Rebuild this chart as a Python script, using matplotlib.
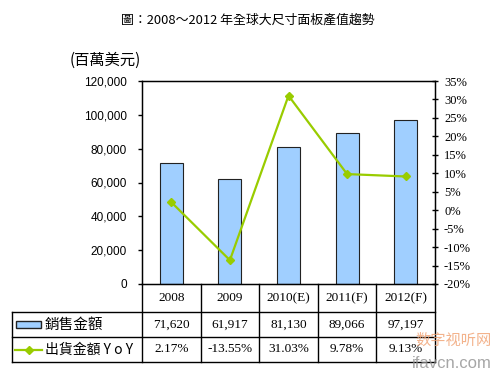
import matplotlib.pyplot as plt
from matplotlib.lines import Line2D
from matplotlib.patches import Rectangle

years = ["2008", "2009", "2010(E)", "2011(F)", "2012(F)"]
sales = [71620, 61917, 81130, 89066, 97197]
yoy = [2.17, -13.55, 31.03, 9.78, 9.13]
sales_labels = ["71,620", "61,917", "81,130", "89,066", "97,197"]
yoy_labels = ["2.17%", "-13.55%", "31.03%", "9.78%", "9.13%"]

CJK = ["Noto Sans CJK TC", "DejaVu Sans"]
SERIF_CJK = ["Liberation Serif", "Noto Sans CJK TC"]
BAR_COLOR = "#a0cfff"
LINE_COLOR = "#99cc00"

W, H = 500, 375
fig = plt.figure(figsize=(5, 3.75), dpi=100)
fig.patch.set_facecolor("white")

x0, x1 = 142, 435
y_top, y_bot = 81, 284
ax = fig.add_axes([x0 / W, 1 - y_bot / H, (x1 - x0) / W, (y_bot - y_top) / H])
xs = list(range(len(years)))
ax.bar(xs, sales, width=0.39, color=BAR_COLOR, edgecolor="#222222", linewidth=0.8)
ax.set_xlim(-0.5, len(years) - 0.5)
ax.set_ylim(0, 120000)
ax.set_yticks(range(0, 120001, 20000))
ax.set_yticklabels([f"{v:,}" for v in range(0, 120001, 20000)],
                   fontfamily="Liberation Sans", fontsize=8.5)
ax.set_xticks([])
ax.tick_params(axis="y", direction="out", length=3, width=1, pad=8)
for s in ax.spines.values():
    s.set_linewidth(1)

ax2 = ax.twinx()
ax2.plot(xs, yoy, color=LINE_COLOR, linewidth=1.6, marker="D", markersize=4)
ax2.set_ylim(-20, 35)
ax2.set_yticks(range(-20, 36, 5))
ax2.set_yticklabels([f"{v}%" for v in range(-20, 36, 5)],
                    fontfamily="Liberation Serif", fontsize=9)
ax2.tick_params(axis="y", direction="inout", length=5, width=1, pad=4)
ax2.set_xlim(-0.5, len(years) - 0.5)

fig.text(248 / W, 1 - 20 / H, "圖：2008～2012 年全球大尺寸面板產值趨勢",
         ha="center", va="center", fontsize=9.3, fontfamily=CJK)
fig.text(70 / W, 1 - 60 / H, "(百萬美元)", ha="left", va="center",
         fontsize=11, fontfamily=CJK)

# table under the chart
cols = [142, 200.6, 259.2, 317.8, 376.4, 435]
rows = [284, 312, 337, 362]
lx = 12


def fx(px):
    return px / W


def fy(py):
    return 1 - py / H


def hline(y, xa, xb):
    fig.add_artist(Line2D([fx(xa), fx(xb)], [fy(y), fy(y)], color="black", lw=1))


def vline(x, ya, yb):
    fig.add_artist(Line2D([fx(x), fx(x)], [fy(ya), fy(yb)], color="black", lw=1))


hline(rows[1], lx, cols[-1])
hline(rows[2], lx, cols[-1])
hline(rows[3], lx, cols[-1])
vline(lx, rows[1], rows[3])
for c in cols:
    vline(c, rows[0], rows[3])

for i in range(len(years)):
    cx = (cols[i] + cols[i + 1]) / 2
    fig.text(fx(cx), fy((rows[0] + rows[1]) / 2), years[i], ha="center", va="center",
             fontsize=9.5, fontfamily=SERIF_CJK)
    fig.text(fx(cx), fy((rows[1] + rows[2]) / 2), sales_labels[i], ha="center", va="center",
             fontsize=9.5, fontfamily=SERIF_CJK)
    fig.text(fx(cx), fy((rows[2] + rows[3]) / 2), yoy_labels[i], ha="center", va="center",
             fontsize=9.5, fontfamily=SERIF_CJK)

# legend cells
fig.add_artist(Rectangle((fx(16), fy(328)), 25 / W, 7 / H, facecolor=BAR_COLOR,
                         edgecolor="#222222", lw=1, transform=fig.transFigure))
fig.text(fx(45), fy(324.5), "銷售金額", ha="left", va="center", fontsize=10.5, fontfamily=CJK)
fig.add_artist(Line2D([fx(15), fx(42)], [fy(350), fy(350)], color=LINE_COLOR, lw=1.6))
fig.add_artist(Line2D([fx(29)], [fy(350)], color=LINE_COLOR, marker="D", markersize=4))
fig.text(fx(45), fy(349.5), "出貨金額 Y o Y", ha="left", va="center", fontsize=10,
         fontfamily=CJK)

# watermark
fig.text(fx(492), fy(340), "数字视听网", ha="right", va="center", fontsize=11,
         color="#f0a070", alpha=0.8, fontfamily=CJK)
fig.text(fx(492), fy(363), "ifavcn.com", ha="right", va="center", fontsize=12,
         color="#909090", alpha=0.8, fontfamily="Liberation Sans")

fig.savefig("out.png", dpi=100)
